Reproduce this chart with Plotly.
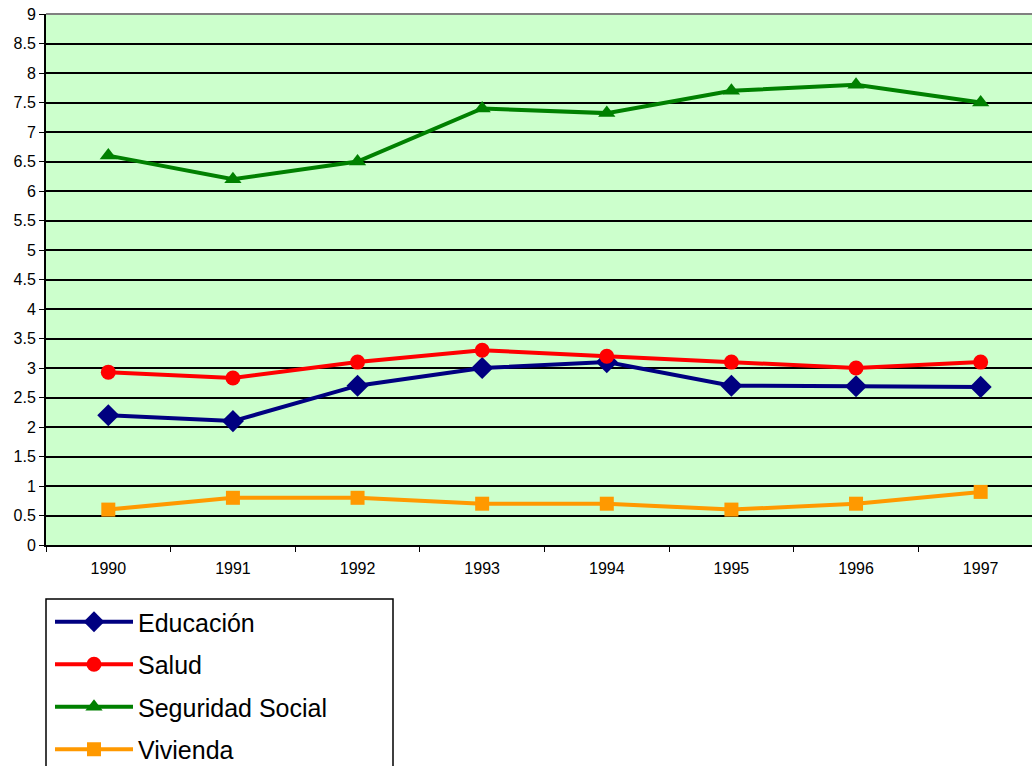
import plotly.graph_objects as go

years = ["1990", "1991", "1992", "1993", "1994", "1995", "1996", "1997"]
educacion = [2.2, 2.1, 2.7, 3.0, 3.1, 2.7, 2.69, 2.68]
salud = [2.93, 2.83, 3.1, 3.3, 3.2, 3.1, 3.0, 3.1]
seguridad_social = [6.6, 6.2, 6.5, 7.4, 7.32, 7.7, 7.8, 7.5]
vivienda = [0.6, 0.8, 0.8, 0.7, 0.7, 0.6, 0.7, 0.9]
y_ticks = [0, 0.5, 1, 1.5, 2, 2.5, 3, 3.5, 4, 4.5, 5, 5.5, 6, 6.5, 7, 7.5, 8, 8.5, 9]

series = [
    ("Educación", educacion, "#000080", "diamond", 17),
    ("Salud", salud, "#FF0000", "circle", 15),
    ("Seguridad Social", seguridad_social, "#008000", "triangle-up", 15),
    ("Vivienda", vivienda, "#FF9900", "square", 14),
]

fig = go.Figure()
for i, (name, vals, color, symbol, size) in enumerate(series):
    fig.add_trace(go.Scatter(
        x=years, y=vals, name=name, mode="lines+markers",
        line=dict(color=color, width=4),
        marker=dict(symbol=symbol, size=size, color=color),
        legendgroup=f"g{i}",
    ))

plot_w = 1032 - 46
plot_h = 766 - 14 - 221

fig.update_layout(
    width=1032, height=766,
    margin=dict(l=46, r=0, t=14, b=221, autoexpand=False),
    paper_bgcolor="white",
    plot_bgcolor="#CCFFCC",
    font=dict(family="Liberation Sans, Arial, sans-serif", color="black"),
    showlegend=True,
    legend=dict(
        x=4 / plot_w, y=-54 / plot_h, xanchor="left", yanchor="top",
        font=dict(size=25, color="black"),
        bgcolor="rgba(0,0,0,0)", borderwidth=0,
        tracegroupgap=7, itemwidth=78,
    ),
    xaxis=dict(
        type="category", range=[-0.5, 7.412],
        tickson="boundaries", ticks="outside", ticklen=5, tickcolor="black",
        showline=True, linecolor="black", linewidth=2,
        showgrid=False, tickfont=dict(size=16), zeroline=False,
        ticklabelstandoff=8,
    ),
    yaxis=dict(
        range=[0, 9], tickvals=y_ticks, ticktext=[f"{v:g}" for v in y_ticks],
        ticks="outside", ticklen=5, tickcolor="black",
        showline=True, linecolor="black", linewidth=2,
        showgrid=True, gridcolor="black", gridwidth=1.5,
        tickfont=dict(size=16), zeroline=False,
    ),
    shapes=[
        dict(type="line", xref="paper", yref="paper", x0=0, x1=1, y0=1, y1=1,
             line=dict(color="#808080", width=2)),
        dict(type="rect", xref="paper", yref="paper", x0=0, x1=347 / plot_w,
             y0=-54 / plot_h, y1=-240 / plot_h, line=dict(color="black", width=1.5)),
    ],
)

fig.write_html("out.html")
